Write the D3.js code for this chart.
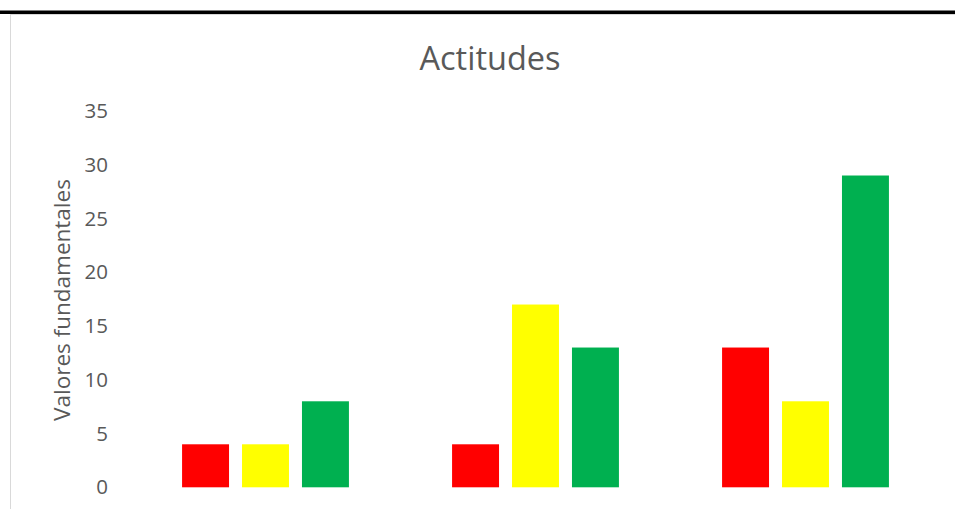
<!DOCTYPE html>
<html>
<head>
<meta charset="utf-8">
<script src="https://cdn.jsdelivr.net/npm/d3@7"></script>
<style>
  body { margin: 0; background: #fff; }
  text { font-family: "Open Sans", sans-serif; fill: #595959; }
</style>
</head>
<body>
<div id="chart"></div>
<script>
var categories = ["Grupo 1", "Grupo 2", "Grupo 3"];
var series = ["Rojo", "Amarillo", "Verde"];
var colors = ["#ff0000", "#ffff00", "#00b050"];
var values = [
  [4, 4, 8],
  [4, 17, 13],
  [13, 8, 29]
];
var yTicks = [0, 5, 10, 15, 20, 25, 30, 35];

var width = 955, height = 509;
var svg = d3.select("#chart").append("svg")
    .attr("width", width)
    .attr("height", height);

// frame lines
svg.append("rect").attr("x", 0).attr("y", 10.5).attr("width", width).attr("height", 3.5).attr("fill", "#000");
svg.append("line").attr("x1", 10).attr("x2", width).attr("y1", 14.5).attr("y2", 14.5).attr("stroke", "#d9d9d9");
svg.append("line").attr("x1", 10.5).attr("x2", 10.5).attr("y1", 14).attr("y2", height).attr("stroke", "#d9d9d9");

var x0 = d3.scaleBand().domain(categories).range([130.5, 940.5]).paddingInner(0.382).paddingOuter(0.191);
var x1 = d3.scaleBand().domain(series).range([0, x0.bandwidth()]).paddingInner(13 / 60);
var y = d3.scaleLinear().domain([0, 35]).range([487.3, 111]);

svg.append("text")
    .attr("x", 490).attr("y", 70)
    .attr("text-anchor", "middle")
    .style("font-size", "32.5px")
    .text("Actitudes");

var yAxis = svg.append("g")
    .attr("transform", "translate(108,0)")
    .call(d3.axisLeft(y).tickValues(yTicks).tickSize(0).tickPadding(0));
yAxis.select(".domain").remove();
yAxis.selectAll("text")
    .style("font-family", "'Open Sans', sans-serif")
    .style("font-size", "20.5px")
    .attr("fill", "#595959");

svg.append("text")
    .attr("transform", "translate(70,300) rotate(-90)")
    .attr("text-anchor", "middle")
    .style("font-size", "22.5px")
    .text("Valores fundamentales");

var groups = svg.selectAll(".grp")
    .data(values)
    .enter().append("g")
    .attr("class", "grp")
    .attr("transform", function(d, i) { return "translate(" + x0(categories[i]) + ",0)"; });

groups.selectAll("rect")
    .data(function(d) { return d; })
    .enter().append("rect")
    .attr("x", function(d, i) { return x1(series[i]); })
    .attr("y", function(d) { return y(d); })
    .attr("width", x1.bandwidth())
    .attr("height", function(d) { return y(0) - y(d); })
    .attr("fill", function(d, i) { return colors[i]; });
</script>
</body>
</html>
